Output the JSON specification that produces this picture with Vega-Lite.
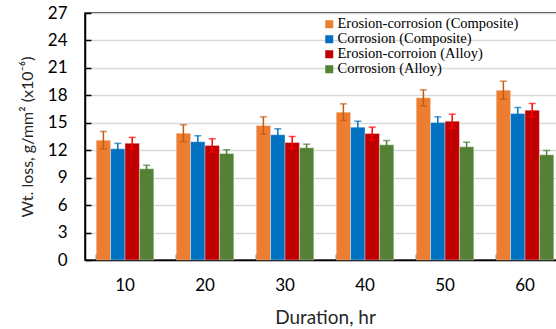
{
  "$schema": "https://vega.github.io/schema/vega-lite/v6.json",
  "width": 480,
  "height": 247,
  "autosize": "none",
  "padding": {"left": 85, "top": 13, "right": 0, "bottom": 69},
  "background": "white",
  "config": {
    "view": {"stroke": "black", "strokeWidth": 1.5},
    "font": "Lato"
  },
  "data": {
    "values": [
      {"Duration": "10", "Series": "Erosion-corrosion (Composite)", "value": 13.1, "lo": 12.15, "hi": 14.05},
      {"Duration": "10", "Series": "Corrosion (Composite)", "value": 12.15, "lo": 11.55, "hi": 12.75},
      {"Duration": "10", "Series": "Erosion-corroion (Alloy)", "value": 12.77, "lo": 12.14, "hi": 13.4},
      {"Duration": "10", "Series": "Corrosion (Alloy)", "value": 9.97, "lo": 9.58, "hi": 10.36},
      {"Duration": "20", "Series": "Erosion-corrosion (Composite)", "value": 13.86, "lo": 12.94, "hi": 14.78},
      {"Duration": "20", "Series": "Corrosion (Composite)", "value": 12.92, "lo": 12.26, "hi": 13.58},
      {"Duration": "20", "Series": "Erosion-corroion (Alloy)", "value": 12.52, "lo": 11.79, "hi": 13.25},
      {"Duration": "20", "Series": "Corrosion (Alloy)", "value": 11.64, "lo": 11.23, "hi": 12.05},
      {"Duration": "30", "Series": "Erosion-corrosion (Composite)", "value": 14.7, "lo": 13.75, "hi": 15.65},
      {"Duration": "30", "Series": "Corrosion (Composite)", "value": 13.69, "lo": 13.04, "hi": 14.34},
      {"Duration": "30", "Series": "Erosion-corroion (Alloy)", "value": 12.84, "lo": 12.18, "hi": 13.5},
      {"Duration": "30", "Series": "Corrosion (Alloy)", "value": 12.27, "lo": 11.88, "hi": 12.66},
      {"Duration": "40", "Series": "Erosion-corrosion (Composite)", "value": 16.16, "lo": 15.25, "hi": 17.07},
      {"Duration": "40", "Series": "Corrosion (Composite)", "value": 14.52, "lo": 13.87, "hi": 15.17},
      {"Duration": "40", "Series": "Erosion-corroion (Alloy)", "value": 13.83, "lo": 13.14, "hi": 14.52},
      {"Duration": "40", "Series": "Corrosion (Alloy)", "value": 12.59, "lo": 12.12, "hi": 13.06},
      {"Duration": "50", "Series": "Erosion-corrosion (Composite)", "value": 17.73, "lo": 16.86, "hi": 18.6},
      {"Duration": "50", "Series": "Corrosion (Composite)", "value": 15.03, "lo": 14.41, "hi": 15.65},
      {"Duration": "50", "Series": "Erosion-corroion (Alloy)", "value": 15.17, "lo": 14.4, "hi": 15.94},
      {"Duration": "50", "Series": "Corrosion (Alloy)", "value": 12.37, "lo": 11.86, "hi": 12.88},
      {"Duration": "60", "Series": "Erosion-corrosion (Composite)", "value": 18.56, "lo": 17.57, "hi": 19.55},
      {"Duration": "60", "Series": "Corrosion (Composite)", "value": 16.01, "lo": 15.35, "hi": 16.67},
      {"Duration": "60", "Series": "Erosion-corroion (Alloy)", "value": 16.38, "lo": 15.65, "hi": 17.11},
      {"Duration": "60", "Series": "Corrosion (Alloy)", "value": 11.5, "lo": 11.03, "hi": 11.97}
    ]
  },
  "encoding": {
    "x": {
      "field": "Duration", "type": "nominal", "sort": null,
      "scale": {"paddingInner": 0.28, "paddingOuter": 0.14},
      "axis": {
        "title": "Duration, hr", "titleFontSize": 19, "titleFontWeight": "normal", "titleColor": "#262626",
        "titleFont": "Lato", "titlePadding": 15,
        "labelFontSize": 17, "labelColor": "black", "labelPadding": 23, "labelAngle": 0,
        "domainColor": "black", "domainWidth": 1.5,
        "tickColor": "black", "tickWidth": 1.5, "tickSize": -6, "bandPosition": 0,
        "grid": false
      }
    },
    "xOffset": {"field": "Series", "type": "nominal", "sort": null, "scale": {"paddingInner": 0, "paddingOuter": 0}},
    "y": {
      "field": "value", "type": "quantitative",
      "scale": {"domain": [0, 27], "nice": false},
      "axis": {
        "title": "Wt. loss, g/mm² (x10⁻⁶)", "titleFontSize": 16, "titleFontWeight": "normal",
        "titleColor": "#262626", "titlePadding": 12,
        "values": [0, 3, 6, 9, 12, 15, 18, 21, 24, 27], "labelOverlap": false,
        "labelFontSize": 17, "labelColor": "black", "labelPadding": 24,
        "domainColor": "black", "domainWidth": 1.5,
        "tickColor": "black", "tickWidth": 1.5, "tickSize": -6,
        "grid": true, "gridColor": "#d9d9d9", "gridWidth": 1.5
      }
    }
  },
  "layer": [
    {
      "mark": {"type": "bar", "stroke": "white", "strokeOpacity": 0.35, "strokeWidth": 1},
      "encoding": {
        "color": {
          "field": "Series", "type": "nominal", "sort": null,
          "scale": {
            "domain": ["Erosion-corrosion (Composite)", "Corrosion (Composite)", "Erosion-corroion (Alloy)", "Corrosion (Alloy)"],
            "range": ["#ED7D31", "#0070C0", "#C00000", "#548235"]
          },
          "legend": {
            "title": null, "orient": "none", "legendX": 237, "legendY": 4,
            "symbolType": "square", "symbolSize": 64, "symbolStrokeWidth": 0,
            "labelFont": "Liberation Serif", "labelFontSize": 14.5, "labelColor": "black", "labelLimit": 400,
            "rowPadding": 0, "labelOffset": 1, "symbolOffset": 0
          }
        }
      }
    },
    {
      "layer": [
        {
          "mark": {"type": "rule", "strokeWidth": 1.5},
          "encoding": {
            "y": {"field": "lo", "type": "quantitative"},
            "y2": {"field": "hi"}
          }
        },
        {
          "mark": {"type": "tick", "size": 7, "thickness": 1.5, "orient": "horizontal"},
          "encoding": {
            "y": {"field": "lo", "type": "quantitative"}
          }
        },
        {
          "mark": {"type": "tick", "size": 7, "thickness": 1.5, "orient": "horizontal"},
          "encoding": {
            "y": {"field": "hi", "type": "quantitative"}
          }
        }
      ],
      "encoding": {
        "color": {
          "field": "Series", "type": "nominal", "sort": null,
          "scale": {
            "domain": ["Erosion-corrosion (Composite)", "Corrosion (Composite)", "Erosion-corroion (Alloy)", "Corrosion (Alloy)"],
            "range": ["#C55A11", "#0070C0", "#FF0000", "#507E32"]
          },
          "legend": null
        }
      }
    }
  ],
  "resolve": {"scale": {"color": "independent"}}
}
